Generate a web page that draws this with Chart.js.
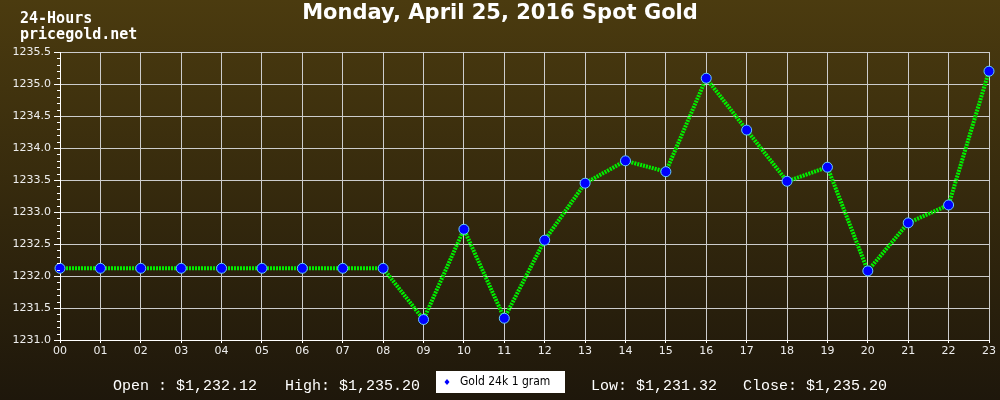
<!DOCTYPE html>
<html>
<head>
<meta charset="utf-8">
<script src="https://cdn.jsdelivr.net/npm/chart.js@4/dist/chart.umd.min.js"></script>
<style>
  html, body { margin: 0; padding: 0; background: #1e170b; }
  #wrap { width: 1000px; height: 400px; position: relative; }
</style>
</head>
<body>
<div id="wrap"><canvas id="gold"></canvas></div>
<script>
const hours = ['00','01','02','03','04','05','06','07','08','09','10','11',
               '12','13','14','15','16','17','18','19','20','21','22','23'];
const prices = [1232.12, 1232.12, 1232.12, 1232.12, 1232.12, 1232.12, 1232.12, 1232.12,
                1232.12, 1231.32, 1232.73, 1231.34, 1232.56, 1233.45, 1233.80, 1233.63,
                1235.09, 1234.28, 1233.48, 1233.70, 1232.08, 1232.83, 1233.11, 1235.20];
const yTicks = [1231.0, 1231.5, 1232.0, 1232.5, 1233.0, 1233.5, 1234.0, 1234.5, 1235.0, 1235.5];
const seriesName = 'Gold 24k 1 gram';
const titleText = 'Monday, April 25, 2016 Spot Gold';

const money = v => '$' + v.toLocaleString('en-US', { minimumFractionDigits: 2, maximumFractionDigits: 2 });

const decor = {
    id: 'decor',
    beforeDraw(chart) {
        const c = chart.ctx;
        const g = c.createLinearGradient(0, 0, 0, chart.height);
        g.addColorStop(0, '#4b3b0f');
        g.addColorStop(1, '#1e170b');
        c.save();
        c.fillStyle = g;
        c.fillRect(0, 0, chart.width, chart.height);
        c.restore();
    },
    afterDraw(chart) {
        const c = chart.ctx;
        const y = chart.scales.y;
        const area = chart.chartArea;
        c.save();
        // minor ticks every 0.1
        c.strokeStyle = '#ffffff';
        c.lineWidth = 1;
        for (let v = yTicks[0]; v < yTicks[yTicks.length - 1]; v += 0.1) {
            const py = Math.round(y.getPixelForValue(v)) + 0.5;
            c.beginPath();
            c.moveTo(area.left - 3, py);
            c.lineTo(area.left, py);
            c.stroke();
        }
        // title
        c.fillStyle = '#ffffff';
        c.textAlign = 'center';
        c.textBaseline = 'middle';
        c.font = 'bold 21px "DejaVu Sans"';
        c.fillText(titleText, 500, 14);
        // site label
        c.textAlign = 'left';
        c.font = 'bold 15px "DejaVu Sans Mono"';
        c.fillText('24-Hours', 20, 19);
        c.fillText('pricegold.net', 20, 35);
        // footer stats
        const open = prices[0], close = prices[prices.length - 1];
        const high = Math.max(...prices), low = Math.min(...prices);
        c.font = '15px "Liberation Mono", "DejaVu Sans Mono"';
        c.textBaseline = 'middle';
        c.fillText('Open : ' + money(open), 113, 386);
        c.fillText('High: ' + money(high), 285, 386);
        c.fillText('Low: ' + money(low), 591, 386);
        c.fillText('Close: ' + money(close), 743, 386);
        // legend box
        c.fillStyle = '#ffffff';
        c.fillRect(436, 371, 129, 22);
        c.fillStyle = '#0000ff';
        c.beginPath();
        c.moveTo(447, 379); c.lineTo(449.5, 382); c.lineTo(447, 385); c.lineTo(444.5, 382);
        c.closePath();
        c.fill();
        c.fillStyle = '#000000';
        c.font = '12px "DejaVu Sans Condensed", "DejaVu Sans"';
        c.fillText(seriesName, 460, 382);
        c.restore();
    }
};

new Chart(document.getElementById('gold'), {
    type: 'line',
    data: {
        labels: hours,
        datasets: [{
            label: seriesName,
            data: prices,
            borderColor: '#00f000',
            borderWidth: 4,
            borderDash: [2, 1],
            tension: 0,
            pointRadius: 5,
            pointHoverRadius: 5,
            pointBackgroundColor: '#0000ff',
            pointBorderColor: '#66ccff',
            pointBorderWidth: 1
        }]
    },
    options: {
        responsive: true,
        maintainAspectRatio: false,
        animation: false,
        layout: { padding: { top: 52, right: 11, left: 0, bottom: 0 } },
        plugins: {
            legend: { display: false },
            title: { display: false },
            tooltip: { enabled: false }
        },
        scales: {
            x: {
                afterFit: s => { s.height = 60; },
                grid: { color: '#cccccc', lineWidth: 1, tickLength: 3, tickColor: '#ffffff' },
                border: { color: '#ffffff', width: 1 },
                ticks: { color: '#eeeeee', font: { family: 'DejaVu Sans', size: 11 }, padding: 2,
                         maxRotation: 0, autoSkip: false }
            },
            y: {
                min: yTicks[0],
                max: yTicks[yTicks.length - 1],
                afterFit: s => { s.width = 60; },
                afterBuildTicks: s => { s.ticks = yTicks.map(v => ({ value: v })); },
                grid: { color: '#cccccc', lineWidth: 1, tickLength: 6, tickColor: '#ffffff' },
                border: { color: '#ffffff', width: 1 },
                ticks: { color: '#eeeeee', font: { family: 'DejaVu Sans', size: 11 }, padding: 3,
                         callback: v => Number(v).toFixed(1) }
            }
        }
    },
    plugins: [decor]
});
</script>
</body>
</html>
